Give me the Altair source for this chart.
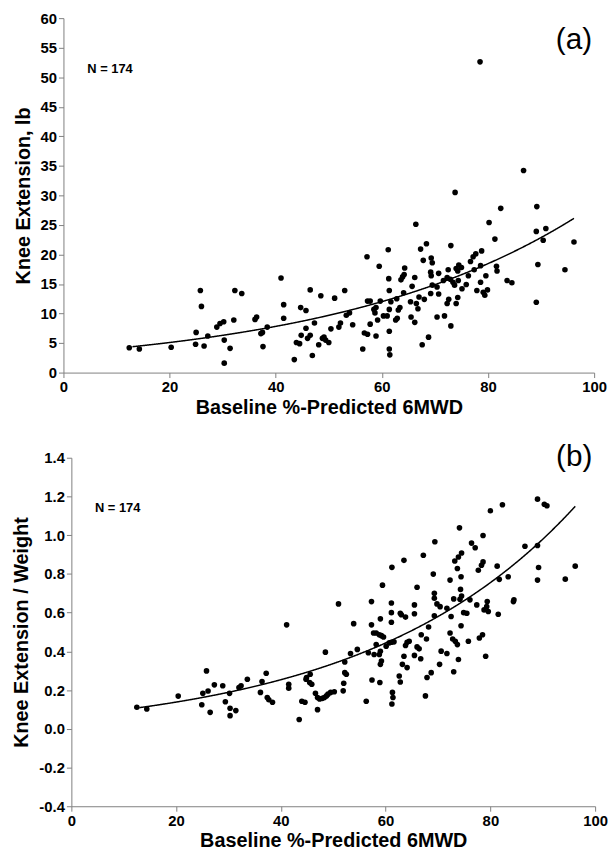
import altair as alt
import pandas as pd

# ---------------- data: panel (a) Knee Extension, lb ----------------
xa = [12.4, 14.3, 20.3, 24.9, 25.0, 25.8, 26.0, 26.5, 27.2, 28.9, 29.5, 30.2, 30.3, 30.3, 31.4,
      32.1, 32.3, 33.6, 36.1, 36.4, 37.2, 37.5, 37.6, 38.4, 41.0, 41.5, 41.5, 43.5, 43.9, 44.5,
      44.8, 44.7, 45.7, 45.7, 46.0, 46.5, 46.5, 46.9, 47.3, 48.1, 48.5, 48.8, 49.1, 49.4, 50.0,
      50.4, 51.1, 51.9, 52.2, 53.0, 53.3, 53.9, 54.5, 56.4, 56.7, 57.3, 57.2, 57.3, 57.8, 57.8,
      58.5, 58.7, 58.9, 58.9, 59.2, 59.5, 59.7, 60.3, 61.0, 61.2, 61.3, 61.4, 61.4, 61.4, 61.4,
      61.5, 61.7, 62.6, 62.9, 62.8, 63.1, 63.4, 63.6, 63.9, 64.2, 64.3, 64.1, 65.4, 65.5, 65.7,
      73.8, 82.4, 89.2, 66.4, 80.2, 89.1, 90.9, 90.4, 96.2, 81.3, 73.0, 68.4, 67.3, 67.8, 69.3,
      69.5, 66.2, 69.2, 69.3, 70.7, 72.5, 74.0, 74.5, 74.3, 75.0, 76.7, 77.2, 77.7, 78.8, 77.4,
      78.6, 81.6, 81.7, 83.6, 84.5, 89.4, 94.5, 89.1, 71.6, 72.3, 72.9, 73.4, 73.7, 74.4, 75.1,
      75.9, 76.3, 78.6, 79.6, 77.9, 79.1, 79.4, 79.9, 69.5, 70.4, 69.2, 70.7, 74.3, 72.6, 72.3,
      74.0, 70.4, 71.8, 73.0, 68.8, 66.2, 66.5, 66.8, 67.0, 68.0, 78.5, 86.7, 67.6]
ya = [4.2, 4.0, 4.3, 4.8, 6.8, 13.9, 11.2, 4.5, 6.2, 7.7, 8.3, 8.6, 5.5, 1.6, 4.1,
      8.9, 13.9, 13.4, 9.0, 9.4, 6.6, 6.8, 4.4, 7.7, 16.0, 11.5, 9.2, 2.2, 5.1, 4.9,
      6.3, 11.0, 10.5, 7.5, 5.8, 6.3, 14.0, 2.9, 8.4, 4.7, 13.0, 5.8, 6.0, 5.5, 5.1,
      7.4, 12.6, 7.7, 8.4, 13.9, 9.7, 10.1, 8.1, 4.0, 6.7, 6.5, 19.6, 12.1, 12.1, 8.2,
      10.7, 10.1, 11.0, 6.2, 8.9, 18.0, 12.1, 9.6, 9.6, 20.8, 15.9, 13.9, 10.7, 7.0, 4.0,
      3.0, 12.0, 8.9, 9.2, 12.5, 10.6, 11.0, 15.7, 16.2, 16.6, 17.7, 13.5, 12.0, 9.4, 14.6,
      30.5, 27.8, 28.1, 25.1, 25.4, 23.9, 24.4, 22.4, 22.1, 22.6, 21.5, 21.8, 20.9, 19.0, 19.4,
      18.6, 16.1, 17.0, 16.4, 16.8, 17.4, 17.6, 18.2, 17.2, 17.8, 18.8, 19.6, 20.1, 20.6, 17.4,
      18.1, 18.0, 17.2, 15.6, 15.2, 18.3, 17.4, 11.9, 15.6, 16.1, 15.8, 15.3, 14.8, 15.6, 14.2,
      14.9, 16.4, 15.3, 16.4, 13.9, 13.6, 13.1, 14.0, 14.8, 14.5, 13.4, 13.3, 12.7, 12.4, 11.7,
      11.7, 9.4, 9.6, 7.9, 6.0, 8.5, 11.7, 10.8, 12.8, 12.4, 52.6, 34.2, 4.7]

# ---------------- data: panel (b) Knee Extension / Weight ----------------
xb = [12.5, 14.4, 20.4, 24.9, 25.1, 25.8, 26.1, 26.5, 27.3, 28.9, 29.4, 30.2, 30.3, 30.3, 31.4,
      32.0, 32.4, 33.6, 36.1, 36.4, 37.2, 37.4, 37.7, 38.4, 41.1, 41.5, 41.5, 43.5, 44.0, 44.6,
      44.8, 44.9, 45.6, 45.5, 45.9, 46.6, 47.0, 47.0, 47.4, 47.9, 48.3, 48.7, 49.0, 49.5, 50.2,
      48.5, 51.0, 51.9, 52.0, 52.2, 52.5, 52.2, 53.3, 54.6, 53.9, 56.3, 56.7, 57.3, 57.3, 57.7,
      58.2, 58.8, 59.2, 59.6, 57.4, 58.9, 58.2, 57.8, 58.8, 59.0, 59.2, 59.0, 59.0, 60.1, 60.7,
      61.1, 61.6, 61.1, 61.1, 61.1, 61.3, 61.4, 61.2, 62.6, 62.8, 62.8, 63.0, 63.8, 63.8, 64.1,
      64.5, 63.2, 63.5, 64.1, 65.5, 65.5, 66.0, 66.4, 66.7, 66.8, 67.6, 67.8, 67.9, 68.7, 68.2,
      69.3, 70.3, 70.6, 69.8, 70.4, 71.7, 71.7, 72.3, 72.8, 73.3, 73.7, 72.5, 73.0, 73.9, 74.4,
      74.9, 75.5, 75.8, 77.4, 77.9, 78.5, 79.1, 78.8, 79.6, 79.3, 79.4, 81.5, 84.4, 89.0, 90.3,
      90.8, 82.3, 80.0, 74.1, 78.6, 69.4, 76.4, 77.1, 63.5, 67.2, 74.5, 73.9, 73.2, 73.7, 78.6,
      78.3, 77.7, 81.3, 86.6, 89.0, 89.2, 96.2, 89.0, 94.3, 83.4, 81.7, 69.1, 72.3, 74.4, 66.0,
      84.5, 74.3, 74.5, 74.2, 73.0, 76.1, 69.3, 69.3, 61.2, 59.4, 65.5]
yb = [0.111, 0.102, 0.169, 0.124, 0.183, 0.299, 0.195, 0.085, 0.227, 0.222, 0.140, 0.183, 0.106, 0.068, 0.094,
      0.213, 0.222, 0.256, 0.188, 0.244, 0.287, 0.162, 0.150, 0.137, 0.537, 0.230, 0.210, 0.048, 0.142, 0.137,
      0.256, 0.265, 0.282, 0.239, 0.230, 0.184, 0.162, 0.099, 0.154, 0.157, 0.162, 0.170, 0.179, 0.188, 0.191,
      0.396, 0.645, 0.196, 0.235, 0.290, 0.282, 0.345, 0.389, 0.410, 0.543, 0.142, 0.393, 0.657, 0.537, 0.495,
      0.495, 0.486, 0.481, 0.474, 0.252, 0.239, 0.435, 0.384, 0.384, 0.568, 0.350, 0.333, 0.400, 0.426, 0.444,
      0.447, 0.449, 0.600, 0.550, 0.650, 0.188, 0.162, 0.128, 0.273, 0.242, 0.597, 0.589, 0.577, 0.430, 0.447,
      0.452, 0.333, 0.375, 0.316, 0.640, 0.379, 0.423, 0.413, 0.362, 0.486, 0.170, 0.464, 0.265, 0.290, 0.526,
      0.584, 0.333, 0.401, 0.645, 0.631, 0.623, 0.389, 0.495, 0.464, 0.452, 0.435, 0.580, 0.295, 0.358, 0.532,
      0.600, 0.597, 0.452, 0.640, 0.469, 0.486, 0.375, 0.614, 0.606, 0.631, 0.657, 0.592, 0.657, 1.186, 1.160,
      1.152, 1.157, 1.126, 1.038, 0.998, 0.966, 0.959, 0.935, 0.870, 0.896, 0.908, 0.887, 0.867, 0.828, 0.862,
      0.845, 0.819, 0.840, 0.943, 0.947, 0.833, 0.840, 0.768, 0.773, 0.785, 0.772, 0.799, 0.768, 0.785, 0.731,
      0.666, 0.720, 0.686, 0.669, 0.671, 0.666, 0.700, 0.674, 0.834, 0.742, 0.594]

# fitted exponential curves: y = A*exp(B*x) + C
fit_a = {"A": 3.316, "B": 0.02145, "C": 0.0}
fit_b = {"A": 0.1096, "B": 0.0248, "C": -0.042}
fit_range = [13.0, 96.25]

x_ticks = [0, 20, 40, 60, 80, 100]
ya_ticks = [0, 5, 10, 15, 20, 25, 30, 35, 40, 45, 50, 55, 60]
yb_ticks = [-0.4, -0.2, 0.0, 0.2, 0.4, 0.6, 0.8, 1.0, 1.2, 1.4]
n_label = "N = 174"

FONT = "Liberation Sans"
X_TITLE = "Baseline %-Predicted 6MWD"


def panel(xs, ys, fit, ytitle, ydomain, yticks, width, height, letter, n_pos, letter_pos,
          label_expr=None, inset=0):
    df = pd.DataFrame({"x": xs, "y": ys})
    xscale = alt.Scale(domain=[0, 100], nice=False, zero=False, range=[inset, width])
    yscale = alt.Scale(domain=ydomain, nice=False, zero=False)
    xaxis = alt.Axis(values=x_ticks, tickCount=len(x_ticks) + 2, title=X_TITLE, format="d",
                     labelOverlap=False, labelFlush=False)
    yargs = dict(values=yticks, tickCount=len(yticks) + 2, title=ytitle, labelOverlap=False,
                 labelFlush=False, offset=-inset)
    if label_expr:
        yargs["labelExpr"] = label_expr
    yaxis = alt.Axis(**yargs)
    X = alt.X("x:Q", scale=xscale, axis=xaxis)
    Y = alt.Y("y:Q", scale=yscale, axis=yaxis)
    pts = alt.Chart(df).mark_circle(size=32, color="black", opacity=1).encode(x=X, y=Y)
    curve = alt.Chart(alt.sequence(fit_range[0], fit_range[1], 0.1, as_="x")).transform_calculate(
        y=f"{fit['A']}*exp({fit['B']}*datum.x)+({fit['C']})"
    ).mark_line(color="black", strokeWidth=1.5).encode(x=X, y=Y)
    ntext = alt.Chart(pd.DataFrame({"x": [n_pos[0]], "y": [n_pos[1]], "t": [n_label]})).mark_text(
        align="left", baseline="middle", font=FONT, fontSize=13, fontWeight="bold", color="black"
    ).encode(x=X, y=Y, text="t:N")
    ltext = alt.Chart(pd.DataFrame({"x": [letter_pos[0]], "y": [letter_pos[1]], "t": [letter]})).mark_text(
        align="center", baseline="middle", font=FONT, fontSize=30, color="black"
    ).encode(x=X, y=Y, text="t:N")
    return alt.layer(pts, curve, ntext, ltext).properties(width=width, height=height)


pa = panel(xa, ya, fit_a, "Knee Extension, lb", [0, 60], ya_ticks, 536, 358, "(a)", (4.5, 51.3), (96.2, 56.2))
pb = panel(xb, yb, fit_b, "Knee Extension / Weight", [-0.4, 1.4], yb_ticks, 537, 352, "(b)", (4.5, 1.14), (96.0, 1.405),
           label_expr="replace(format(datum.value, '.1f'), '\u2212', '-')", inset=8)

chart = alt.vconcat(pa, pb, spacing=25).properties(
    padding={"left": 4, "top": -1, "right": 0, "bottom": 0},
).configure_view(stroke=None).configure_axis(
    grid=False,
    domainColor="#808080",
    tickColor="#808080",
    domainWidth=1,
    tickWidth=1,
    tickSize=5,
    labelFont=FONT,
    labelFontSize=15,
    labelFontWeight="bold",
    labelColor="black",
    labelPadding=2,
    labelOverlap=False,
    titleFont=FONT,
    titleFontSize=20,
    titleFontWeight="bold",
    titleColor="black",
).configure_axisY(titlePadding=7).configure_axisX(titlePadding=3)

chart.save("out.html", embed_options={"renderer": "svg", "actions": False})
